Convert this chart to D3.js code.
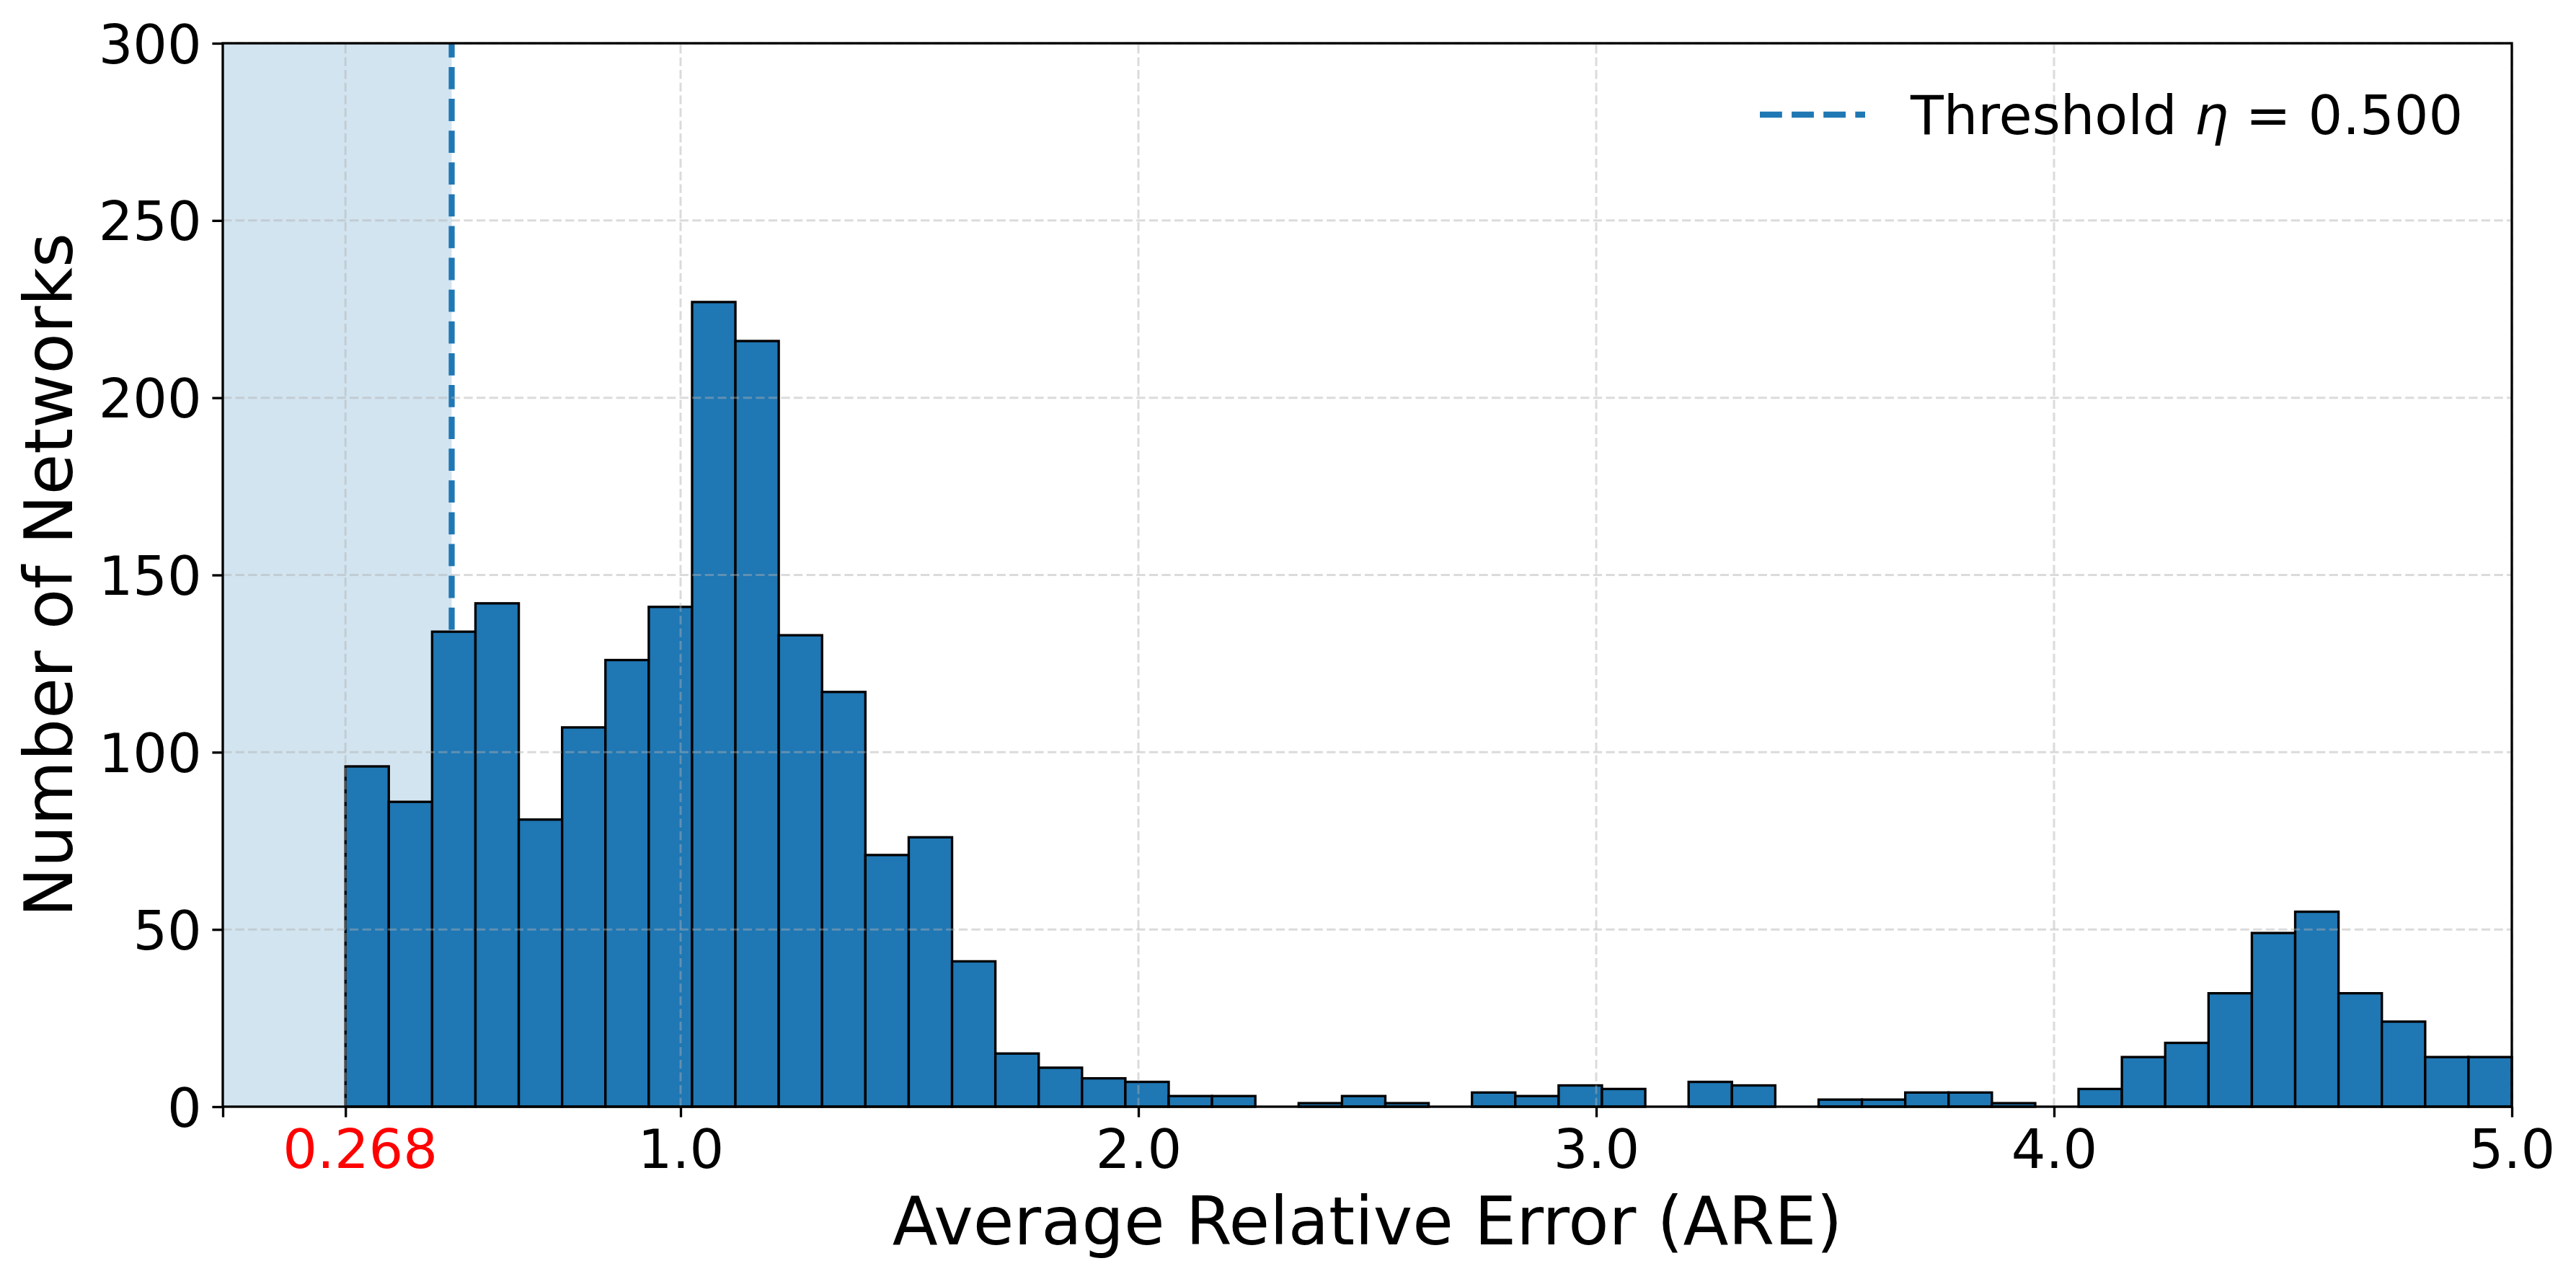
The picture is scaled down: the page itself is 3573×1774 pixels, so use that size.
<!DOCTYPE html>
<html>
<head>
<meta charset="utf-8">
<script src="https://cdn.jsdelivr.net/npm/d3@7"></script>
<style>
  html, body { margin: 0; padding: 0; background: #fff; }
  svg { display: block; font-family: "DejaVu Sans", sans-serif; }
</style>
</head>
<body>
<script>
// ---- data ----
const binStart = 0.268;
const binEnd = 5.0;
const counts = [96, 86, 134, 142, 81, 107, 126, 141, 227, 216,
                133, 117, 71, 76, 41, 15, 11, 8, 7, 3,
                3, 0, 1, 3, 1, 0, 4, 3, 6, 5,
                0, 7, 6, 0, 2, 2, 4, 4, 1, 0,
                5, 14, 18, 32, 49, 55, 32, 24, 14, 14];
const threshold = 0.5;
const xTicks = [0, 0.268, 1.0, 2.0, 3.0, 4.0, 5.0];
const xTickLabels = ["", "0.268", "1.0", "2.0", "3.0", "4.0", "5.0"];
const yTicks = [0, 50, 100, 150, 200, 250, 300];
const xLabel = "Average Relative Error (ARE)";
const yLabel = "Number of Networks";

// ---- layout ----
const W = 3573, H = 1774;
const L = 309, R = 3484, T = 60, B = 1535;
const blue = "#1f77b4";
const lw = 3.33;
const tickLen = 14.6, pad = 14.6;

const svg = d3.select("body").append("svg").attr("width", W).attr("height", H);
svg.append("rect").attr("width", W).attr("height", H).attr("fill", "#fff");

const x = d3.scaleLinear().domain([0, 5]).range([L, R]);
const y = d3.scaleLinear().domain([0, 300]).range([B, T]);

const bw = (binEnd - binStart) / counts.length;
const bins = counts.map((c, i) => ({x0: binStart + i * bw, x1: binStart + (i + 1) * bw, c}));

// shaded region
svg.append("rect")
  .attr("x", x(0)).attr("y", y(300))
  .attr("width", x(threshold) - x(0)).attr("height", y(0) - y(300))
  .attr("fill", blue).attr("fill-opacity", 0.2);

// threshold line
svg.append("line")
  .attr("x1", x(threshold)).attr("x2", x(threshold))
  .attr("y1", y(0)).attr("y2", y(300))
  .attr("stroke", blue).attr("stroke-width", 8.3)
  .attr("stroke-dasharray", "30.8 13.3");

// bars
svg.append("g").selectAll("rect").data(bins).join("rect")
  .attr("x", d => x(d.x0)).attr("width", d => x(d.x1) - x(d.x0))
  .attr("y", d => y(d.c)).attr("height", d => y(0) - y(d.c))
  .attr("fill", blue).attr("stroke", "#000").attr("stroke-width", lw);

// grid (on top)
const grid = svg.append("g").attr("stroke", "#b0b0b0").attr("stroke-opacity", 0.45)
  .attr("stroke-width", 3).attr("stroke-dasharray", "12.3 5.3");
xTicks.filter(v => v > 0).forEach(v => {
  grid.append("line").attr("x1", x(v)).attr("x2", x(v)).attr("y1", y(0)).attr("y2", y(300));
});
yTicks.filter(v => v > 0).forEach(v => {
  grid.append("line").attr("x1", x(0)).attr("x2", x(5)).attr("y1", y(v)).attr("y2", y(v));
});

// axes
const xAxis = d3.axisBottom(x).tickValues(xTicks)
  .tickFormat((d, i) => xTickLabels[i]).tickSize(tickLen).tickPadding(pad);
const gx = svg.append("g").attr("transform", `translate(0,${B})`).call(xAxis);
gx.select(".domain").remove();
gx.selectAll(".tick line").attr("stroke", "#000").attr("stroke-width", lw);
gx.selectAll(".tick text").attr("font-size", 75)
  .attr("font-family", "DejaVu Sans").attr("dy", "0.74em")
  .attr("dx", (d, i) => i === 1 ? 20 : 0)
  .attr("fill", (d, i) => i === 1 ? "red" : "#000");

const yAxis = d3.axisLeft(y).tickValues(yTicks).tickFormat(d3.format("d"))
  .tickSize(tickLen).tickPadding(pad);
const gy = svg.append("g").attr("transform", `translate(${L},0)`).call(yAxis);
gy.select(".domain").remove();
gy.selectAll(".tick line").attr("stroke", "#000").attr("stroke-width", lw);
gy.selectAll(".tick text").attr("font-size", 75).attr("fill", "#000")
  .attr("font-family", "DejaVu Sans").attr("dy", "0.36em");

// spines
svg.append("rect").attr("x", L).attr("y", T).attr("width", R - L).attr("height", B - T)
  .attr("fill", "none").attr("stroke", "#000").attr("stroke-width", lw);

// axis labels
svg.append("text").attr("x", (L + R) / 2).attr("y", 1726)
  .attr("text-anchor", "middle").attr("font-size", 92).attr("fill", "#000")
  .text(xLabel);
svg.append("text")
  .attr("transform", `translate(100,${(T + B) / 2}) rotate(-90)`)
  .attr("text-anchor", "middle").attr("font-size", 92).attr("fill", "#000")
  .text(yLabel);

// legend
const lg = svg.append("g");
lg.append("line").attr("x1", 2441).attr("x2", 2587).attr("y1", 159).attr("y2", 159)
  .attr("stroke", blue).attr("stroke-width", 8.3).attr("stroke-dasharray", "30.8 13.3");
const lt = lg.append("text").attr("x", 2650).attr("y", 186).attr("font-size", 75).attr("fill", "#000");
lt.append("tspan").text("Threshold ");
lt.append("tspan").attr("font-style", "italic").text("η");
lt.append("tspan").text(" = " + threshold.toFixed(3));
</script>
</body>
</html>
